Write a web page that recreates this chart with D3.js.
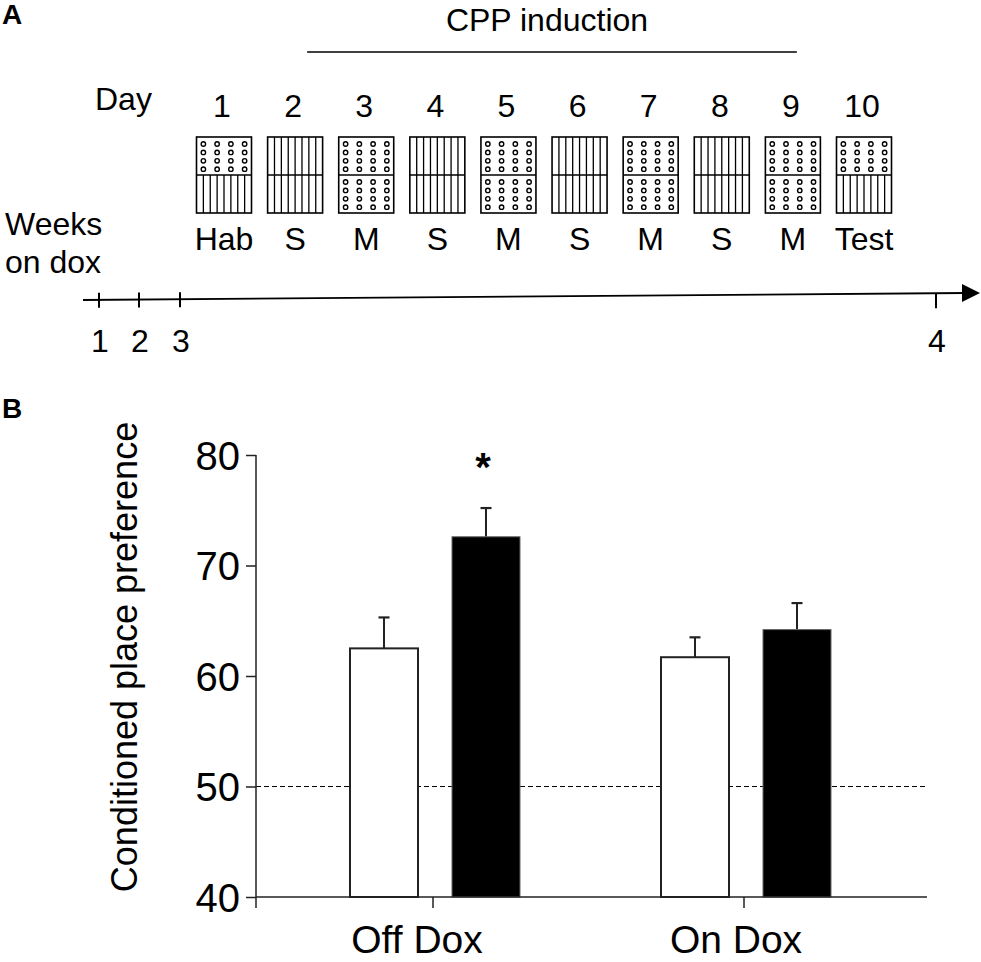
<!DOCTYPE html>
<html>
<head>
<meta charset="utf-8">
<script src="https://cdn.jsdelivr.net/npm/d3@7"></script>
<style>
  body { margin: 0; background: #fff; }
  svg { display: block; font-family: "Liberation Sans", Arial, sans-serif; }
</style>
</head>
<body>
<svg width="981" height="962"></svg>
<script>
// ---- panel A data ----
const days = [1, 2, 3, 4, 5, 6, 7, 8, 9, 10];
const sessions = ["Hab", "S", "M", "S", "M", "S", "M", "S", "M", "Test"];
const topHalf = ["dots", "stripes", "dots", "stripes", "dots", "stripes", "dots", "stripes", "dots", "dots"];
const bottomHalf = ["stripes", "stripes", "dots", "stripes", "dots", "stripes", "dots", "stripes", "dots", "stripes"];
const inductionDays = [2, 9];
const weeks = [1, 2, 3, 4];

// ---- panel B data ----
const groups = ["Off Dox", "On Dox"];
const conditions = ["open", "filled"];
const offDoxMean = [62.5, 72.6];
const offDoxSem = [2.8, 2.6];
const onDoxMean = [61.7, 64.2];
const onDoxSem = [1.8, 2.4];
const yTicks = [40, 50, 60, 70, 80];
const chance = 50;
const significant = ["Off Dox|filled"];

var svg = d3.select("svg");
var ink = "#000";

// panel letters
svg.append("text").attr("x", 2).attr("y", 24).attr("font-size", 28).attr("font-weight", "bold").text("A");
svg.append("text").attr("x", 2).attr("y", 418).attr("font-size", 28).attr("font-weight", "bold").text("B");

/////////////////////////// panel A ///////////////////////////
var dayX = d3.scalePoint().domain(days).range([224, 864]);
var boxW = 55, boxH = 76, boxTop = 137;

// CPP induction bar
svg.append("line")
  .attr("x1", dayX(inductionDays[0]) + 12).attr("x2", dayX(inductionDays[1]) + 4)
  .attr("y1", 52).attr("y2", 52)
  .attr("stroke", ink).attr("stroke-width", 1.5);
svg.append("text")
  .attr("x", (dayX(inductionDays[0]) + dayX(inductionDays[1])) / 2 + 497 - 494)
  .attr("y", 31).attr("text-anchor", "middle").attr("font-size", 32)
  .text("CPP induction");

svg.append("text").attr("x", 95).attr("y", 110).attr("font-size", 32).text("Day");

svg.selectAll(".daynum").data(days).enter().append("text")
  .attr("class", "daynum")
  .attr("x", d => dayX(d) - 2).attr("y", 117)
  .attr("text-anchor", "middle").attr("font-size", 32)
  .text(d => d);

svg.selectAll(".session").data(days).enter().append("text")
  .attr("class", "session")
  .attr("x", d => dayX(d)).attr("y", 250)
  .attr("text-anchor", "middle").attr("font-size", 32)
  .text((d, i) => sessions[i]);

// chamber boxes
function drawHalf(g, kind, y0) {
  var h = boxH / 2;
  if (kind == "stripes") {
    g.selectAll(null).data(d3.range(1, 8)).enter().append("line")
      .attr("x1", i => i * boxW / 8).attr("x2", i => i * boxW / 8)
      .attr("y1", y0).attr("y2", y0 + h)
      .attr("stroke", ink).attr("stroke-width", 1.3);
  } else {
    var pts = [];
    d3.range(4).forEach(r => d3.range(4).forEach(c => pts.push([c, r])));
    g.selectAll(null).data(pts).enter().append("circle")
      .attr("cx", p => (p[0] + 0.5) * boxW / 4)
      .attr("cy", p => y0 + 7 + p[1] * 8.4)
      .attr("r", 2.2)
      .attr("fill", "#fff").attr("stroke", ink).attr("stroke-width", 1.4);
  }
}

days.forEach((d, i) => {
  var g = svg.append("g").attr("transform", "translate(" + (dayX(d) - boxW / 2) + "," + boxTop + ")");
  drawHalf(g, topHalf[i], 0);
  drawHalf(g, bottomHalf[i], boxH / 2);
  g.append("rect").attr("width", boxW).attr("height", boxH)
    .attr("fill", "none").attr("stroke", ink).attr("stroke-width", 1.6);
  g.append("line").attr("x1", 0).attr("x2", boxW).attr("y1", boxH / 2).attr("y2", boxH / 2)
    .attr("stroke", ink).attr("stroke-width", 1.6);
});

// weeks on dox timeline
svg.append("text").attr("x", 5).attr("y", 235).attr("font-size", 32).text("Weeks");
svg.append("text").attr("x", 5).attr("y", 273).attr("font-size", 32).text("on dox");

var weekX = d3.scaleLinear().domain(weeks).range([99, 139, 180, 936]);
var lineStart = 83, lineEnd = 965;
var lineY = d3.scaleLinear().domain([lineStart, lineEnd]).range([300, 293]);

svg.append("line")
  .attr("x1", lineStart).attr("y1", lineY(lineStart))
  .attr("x2", lineEnd).attr("y2", lineY(lineEnd))
  .attr("stroke", ink).attr("stroke-width", 1.8);
svg.append("path")
  .attr("d", "M" + (lineEnd - 3) + "," + (lineY(lineEnd) - 9) + " L980," + lineY(lineEnd) + " L" + (lineEnd - 3) + "," + (lineY(lineEnd) + 9) + "Z")
  .attr("fill", ink);

svg.selectAll(".wtick").data(weeks).enter().append("line")
  .attr("class", "wtick")
  .attr("x1", d => weekX(d)).attr("x2", d => weekX(d))
  .attr("y1", d => d < 4 ? lineY(weekX(d)) - 7 : lineY(weekX(d)))
  .attr("y2", d => lineY(weekX(d)) + (d < 4 ? 8 : 15))
  .attr("stroke", ink).attr("stroke-width", 2);

svg.selectAll(".wlabel").data(weeks).enter().append("text")
  .attr("class", "wlabel")
  .attr("x", d => weekX(d) + 1).attr("y", 352)
  .attr("text-anchor", "middle").attr("font-size", 32)
  .text(d => d);

/////////////////////////// panel B ///////////////////////////
var axisLeft = 256, axisRight = 927;
var y = d3.scaleLinear().domain([40, 80]).range([897, 455]);
var gx = d3.scalePoint().domain(groups).range([433, 744]);
var inner = d3.scaleBand().domain(conditions).range([-83, 87]).paddingInner(1 / 3).paddingOuter(0);

var bars = [];
groups.forEach((g, gi) => {
  var means = gi == 0 ? offDoxMean : onDoxMean;
  var sems = gi == 0 ? offDoxSem : onDoxSem;
  conditions.forEach((c, ci) => {
    bars.push({ group: g, cond: c, mean: means[ci], sem: sems[ci] });
  });
});

var axisColor = "#222";

// chance line
svg.append("line")
  .attr("x1", axisLeft).attr("x2", axisRight)
  .attr("y1", y(chance)).attr("y2", y(chance))
  .attr("stroke", ink).attr("stroke-width", 1).attr("stroke-dasharray", "5,3");

// error bars (upward only)
var eb = svg.selectAll(".err").data(bars).enter().append("g").attr("class", "err");
eb.append("line")
  .attr("x1", d => gx(d.group) + inner(d.cond) + inner.bandwidth() / 2)
  .attr("x2", d => gx(d.group) + inner(d.cond) + inner.bandwidth() / 2)
  .attr("y1", d => y(d.mean)).attr("y2", d => y(d.mean + d.sem))
  .attr("stroke", axisColor).attr("stroke-width", 2);
eb.append("line")
  .attr("x1", d => gx(d.group) + inner(d.cond) + inner.bandwidth() / 2 - 5.5)
  .attr("x2", d => gx(d.group) + inner(d.cond) + inner.bandwidth() / 2 + 5.5)
  .attr("y1", d => y(d.mean + d.sem)).attr("y2", d => y(d.mean + d.sem))
  .attr("stroke", axisColor).attr("stroke-width", 2.2);

// bars
svg.selectAll(".bar").data(bars).enter().append("rect")
  .attr("class", "bar")
  .attr("x", d => gx(d.group) + inner(d.cond))
  .attr("width", inner.bandwidth())
  .attr("y", d => y(d.mean))
  .attr("height", d => y(40) - y(d.mean))
  .attr("fill", d => d.cond == "filled" ? "#000" : "#fff")
  .attr("stroke", d => d.cond == "filled" ? "#666" : axisColor)
  .attr("stroke-width", d => d.cond == "filled" ? 1 : 2);

// significance
svg.selectAll(".star").data(bars.filter(d => significant.indexOf(d.group + "|" + d.cond) >= 0))
  .enter().append("text")
  .attr("x", d => gx(d.group) + inner(d.cond) + inner.bandwidth() / 2 - 3)
  .attr("y", 481)
  .attr("text-anchor", "middle").attr("font-size", 40).attr("font-weight", "bold")
  .text("*");

// y axis
var yAxis = svg.append("g")
  .attr("transform", "translate(" + axisLeft + ",0)")
  .call(d3.axisLeft(y).tickValues(yTicks).tickSize(10).tickPadding(6).tickFormat(d3.format("d")));
yAxis.select(".domain").attr("d", "M0," + y(80) + "V" + y(40)).attr("stroke", axisColor).attr("stroke-width", 1.5);
yAxis.selectAll(".tick line").attr("stroke", axisColor).attr("stroke-width", 1.5);
yAxis.selectAll(".tick text").attr("font-size", 40).attr("font-family", "Liberation Sans, Arial, sans-serif")
  .attr("fill", ink).attr("dy", "0.36em");

// x axis
svg.append("line")
  .attr("x1", axisLeft).attr("x2", axisRight)
  .attr("y1", y(40)).attr("y2", y(40))
  .attr("stroke", axisColor).attr("stroke-width", 1.5);
svg.selectAll(".xtick").data([axisLeft].concat(groups.map(g => gx(g)))).enter().append("line")
  .attr("class", "xtick")
  .attr("x1", d => d).attr("x2", d => d)
  .attr("y1", y(40)).attr("y2", y(40) + 11)
  .attr("stroke", axisColor).attr("stroke-width", 1.5);
svg.selectAll(".xlabel").data(groups).enter().append("text")
  .attr("class", "xlabel")
  .attr("x", d => gx(d) - 16 + (d == "On Dox" ? 8 : 0)).attr("y", 953)
  .attr("text-anchor", "middle").attr("font-size", 39)
  .text(d => d);

// y label
svg.append("text")
  .attr("transform", "translate(137,657) rotate(-90)")
  .attr("text-anchor", "middle").attr("font-size", 36)
  .text("Conditioned place preference");
</script>
</body>
</html>
